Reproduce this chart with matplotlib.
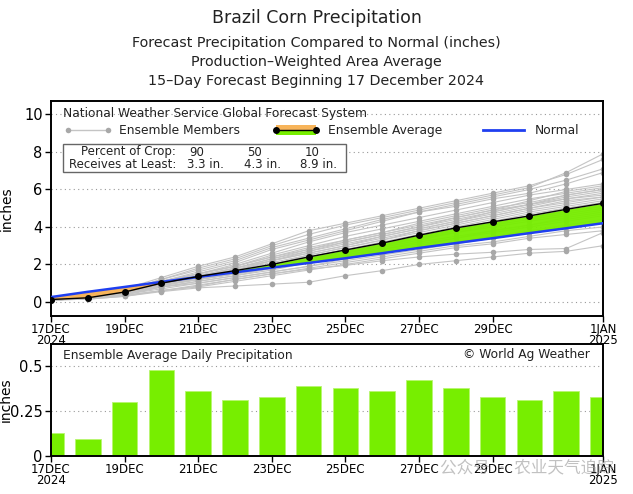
import matplotlib
matplotlib.use("Agg")
import matplotlib.pyplot as plt
import numpy as np
from matplotlib.lines import Line2D
from matplotlib.patches import Rectangle

# ---------------- data ----------------
days = list(range(16))
tick_days = [0, 2, 4, 6, 8, 10, 12, 15]
tick_labels = ["17DEC\n2024", "19DEC", "21DEC", "23DEC", "25DEC", "27DEC", "29DEC", "1JAN\n2025"]

ens_avg = [0.13, 0.22, 0.53, 1.00, 1.36, 1.67, 2.00, 2.40, 2.77, 3.14, 3.56, 3.95, 4.27, 4.59, 4.94, 5.26]
normal = [0.26, 0.54, 0.80, 1.07, 1.33, 1.58, 1.83, 2.08, 2.33, 2.60, 2.88, 3.14, 3.40, 3.67, 3.93, 4.20]
daily_avg = [0.13, 0.095, 0.30, 0.48, 0.36, 0.31, 0.33, 0.39, 0.375, 0.36, 0.42, 0.38, 0.325, 0.31, 0.36, 0.325]

members = [
    [0.15, 0.25, 0.60, 1.20, 1.80, 2.30, 3.00, 3.60, 4.10, 4.50, 4.90, 5.30, 5.70, 6.10, 6.90, 7.90],
    [0.15, 0.30, 0.70, 1.30, 1.90, 2.40, 3.10, 3.80, 4.20, 4.60, 5.00, 5.40, 5.80, 6.20, 6.80, 7.60],
    [0.10, 0.20, 0.50, 1.10, 1.60, 2.10, 2.80, 3.30, 3.80, 4.30, 4.80, 5.20, 5.60, 6.00, 6.50, 7.10],
    [0.20, 0.30, 0.60, 1.20, 1.70, 2.20, 2.90, 3.40, 3.90, 4.40, 4.80, 5.10, 5.50, 5.80, 6.30, 6.90],
    [0.10, 0.20, 0.50, 1.00, 1.50, 2.00, 2.60, 3.20, 3.70, 4.10, 4.50, 4.90, 5.30, 5.70, 6.00, 6.30],
    [0.15, 0.25, 0.60, 1.10, 1.50, 1.90, 2.50, 3.00, 3.50, 3.90, 4.30, 4.70, 5.10, 5.50, 5.80, 6.10],
    [0.10, 0.20, 0.50, 1.00, 1.40, 1.80, 2.30, 2.80, 3.30, 3.70, 4.20, 4.60, 5.00, 5.30, 5.70, 6.00],
    [0.10, 0.20, 0.40, 0.90, 1.30, 1.70, 2.20, 2.70, 3.20, 3.60, 4.00, 4.40, 4.80, 5.20, 5.60, 5.90],
    [0.15, 0.30, 0.60, 1.10, 1.50, 1.90, 2.40, 2.90, 3.30, 3.70, 4.10, 4.50, 4.90, 5.20, 5.50, 5.80],
    [0.10, 0.20, 0.50, 1.00, 1.40, 1.80, 2.20, 2.60, 3.00, 3.50, 3.90, 4.30, 4.70, 5.10, 5.50, 5.70],
    [0.10, 0.20, 0.50, 1.00, 1.30, 1.60, 2.00, 2.50, 2.90, 3.30, 3.80, 4.20, 4.60, 5.00, 5.40, 5.60],
    [0.15, 0.25, 0.50, 1.00, 1.40, 1.70, 2.10, 2.50, 2.90, 3.30, 3.70, 4.10, 4.50, 4.90, 5.20, 5.50],
    [0.10, 0.20, 0.50, 0.90, 1.30, 1.60, 2.00, 2.40, 2.80, 3.20, 3.60, 4.00, 4.40, 4.80, 5.10, 5.40],
    [0.10, 0.20, 0.40, 0.90, 1.20, 1.50, 1.90, 2.30, 2.70, 3.10, 3.50, 3.90, 4.30, 4.70, 5.00, 5.30],
    [0.15, 0.25, 0.50, 0.90, 1.20, 1.50, 1.80, 2.20, 2.60, 3.00, 3.40, 3.80, 4.20, 4.50, 4.80, 5.10],
    [0.10, 0.20, 0.40, 0.80, 1.10, 1.40, 1.80, 2.20, 2.50, 2.90, 3.30, 3.70, 4.00, 4.30, 4.60, 4.90],
    [0.10, 0.20, 0.40, 0.80, 1.10, 1.40, 1.70, 2.10, 2.40, 2.80, 3.20, 3.50, 3.80, 4.10, 4.40, 4.70],
    [0.15, 0.25, 0.50, 0.90, 1.20, 1.50, 1.80, 2.10, 2.40, 2.70, 3.00, 3.40, 3.70, 4.00, 4.30, 4.60],
    [0.10, 0.20, 0.40, 0.80, 1.00, 1.30, 1.60, 1.90, 2.30, 2.60, 2.90, 3.20, 3.50, 3.80, 4.10, 4.40],
    [0.10, 0.20, 0.40, 0.70, 1.00, 1.30, 1.60, 1.90, 2.20, 2.50, 2.80, 3.10, 3.40, 3.70, 4.00, 4.20],
    [0.10, 0.15, 0.30, 0.60, 0.90, 1.20, 1.50, 1.80, 2.10, 2.40, 2.70, 3.00, 3.20, 3.50, 3.80, 4.00],
    [0.10, 0.20, 0.35, 0.60, 0.80, 1.10, 1.40, 1.70, 2.00, 2.30, 2.60, 2.90, 3.10, 3.40, 3.60, 3.80],
    [0.10, 0.15, 0.30, 0.55, 0.75, 0.85, 0.95, 1.05, 1.40, 1.67, 2.00, 2.20, 2.40, 2.60, 2.70, 3.00],
    [0.10, 0.20, 0.35, 0.60, 0.85, 1.20, 1.50, 1.75, 1.95, 2.20, 2.40, 2.55, 2.65, 2.80, 2.85, 3.70],
    [0.15, 0.25, 0.55, 1.10, 1.50, 1.90, 2.40, 2.80, 3.20, 3.60, 4.00, 4.50, 4.90, 5.40, 5.90, 6.20],
    [0.10, 0.20, 0.50, 1.00, 1.40, 1.80, 2.30, 2.70, 3.10, 3.50, 3.90, 4.30, 4.80, 5.20, 5.70, 6.00],
    [0.10, 0.20, 0.50, 1.00, 1.40, 1.70, 2.20, 2.60, 3.00, 3.40, 3.80, 4.20, 4.60, 5.00, 5.30, 5.60],
    [0.10, 0.20, 0.45, 0.90, 1.30, 1.60, 2.00, 2.40, 2.80, 3.10, 3.50, 3.90, 4.20, 4.60, 5.00, 5.30],
    [0.15, 0.25, 0.50, 0.95, 1.30, 1.60, 1.90, 2.30, 2.60, 3.00, 3.40, 3.70, 4.10, 4.40, 4.70, 5.00],
    [0.10, 0.20, 0.45, 0.85, 1.20, 1.50, 1.80, 2.10, 2.50, 2.80, 3.10, 3.40, 3.80, 4.10, 4.50, 4.80],
]

pct_crop = ["90", "50", "10"]
receives = ["3.3 in.", "4.3 in.", "8.9 in."]

title_lines = ["Brazil Corn Precipitation",
               "Forecast Precipitation Compared to Normal (inches)",
               "Production\u2013Weighted Area Average",
               "15\u2013Day Forecast Beginning 17 December 2024"]

# ---------------- style ----------------
GREEN = "#77EE00"
ORANGE = "#F7B45A"
BLUE = "#1F3FF0"
MEMBER_LINE = "#C4C4C4"
MEMBER_DOT = "#A8A8A8"
FONT = "DejaVu Sans"
TICKFONT = ["Liberation Sans Narrow", "DejaVu Sans"]
TXT = "#222222"

W, H = 633, 494
fig = plt.figure(figsize=(W / 100, H / 100), dpi=100)

def fx(px):
    return px / W

def fy(py):
    return 1 - py / H

# titles
fig.text(0.5, fy(18), title_lines[0], ha="center", va="center", fontsize=12.5, family=FONT, color=TXT)
for yy, t in zip([43, 62, 81], title_lines[1:]):
    fig.text(0.5, fy(yy), t, ha="center", va="center", fontsize=10.3, family=FONT, color=TXT)

# ---------------- top axes ----------------
ax = fig.add_axes([fx(51), fy(316), fx(603 - 51), (316 - 101) / H])
ax.set_xlim(0, 15)
ax.set_ylim(-0.75, 10.72)

for yv in [0, 2, 4, 6, 8, 10]:
    ax.axhline(yv, color="#999999", lw=0.8, ls=(0, (1, 3)), zorder=0)

for m in members:
    ax.plot(days, m, color=MEMBER_LINE, lw=0.8, zorder=1)
    ax.plot(days, m, ls="none", marker="o", ms=4, color=MEMBER_DOT, mec="none", zorder=1.5)

ea = np.array(ens_avg)
nm = np.array(normal)
ax.fill_between(days, nm, ea, where=ea >= nm, interpolate=True, color=GREEN, lw=0, zorder=2, alpha=0.95)
ax.fill_between(days, nm, ea, where=ea < nm, interpolate=True, color=ORANGE, lw=0, zorder=2)
ax.plot(days, normal, color=BLUE, lw=1.8, zorder=3)
ax.plot(days, ens_avg, color="black", lw=1.0, marker="o", ms=4, zorder=4)

ax.set_yticks([0, 2, 4, 6, 8, 10])
ax.set_yticklabels(["0", "2", "4", "6", "8", "10"], fontsize=10.5, family=FONT)
ax.set_xticks(tick_days)
ax.set_xticklabels(tick_labels, fontsize=8.5, family=TICKFONT, linespacing=0.85)
ax.tick_params(axis="both", direction="out", length=4, width=1, pad=2)
ax.tick_params(axis="x", pad=1)
ax.set_ylabel("inches", fontsize=10, family=FONT)
ax.yaxis.set_label_coords((14 - 51) / 552, 0.5)
for s in ax.spines.values():
    s.set_linewidth(1.4)

def ax_x(px):
    return (px - 51) / 552

def ax_y(py):
    return (316 - py) / 215

ax.text(ax_x(63), ax_y(114), "National Weather Service Global Forecast System",
        transform=ax.transAxes, fontsize=8.8, family=FONT, va="center", ha="left", color=TXT)

ly = ax_y(130)
ax.add_line(Line2D([ax_x(68), ax_x(108)], [ly, ly], transform=ax.transAxes, color=MEMBER_LINE, lw=1.0))
ax.add_line(Line2D([ax_x(68), ax_x(108)], [ly, ly], transform=ax.transAxes, ls="none", marker="o", ms=4, color=MEMBER_DOT, mec="none"))
ax.text(ax_x(119), ly, "Ensemble Members", transform=ax.transAxes, fontsize=8.8, family=FONT, va="center", color=TXT)

ax.add_patch(Rectangle((ax_x(276), ly), ax_x(316) - ax_x(276), 0.022, transform=ax.transAxes, color=ORANGE, lw=0, zorder=5))
ax.add_patch(Rectangle((ax_x(276), ly - 0.022), ax_x(316) - ax_x(276), 0.022, transform=ax.transAxes, color=GREEN, lw=0, zorder=5))
ax.add_line(Line2D([ax_x(276), ax_x(316)], [ly, ly], transform=ax.transAxes, color="black", lw=1.0, marker="o", ms=4, zorder=6))
ax.text(ax_x(328), ly, "Ensemble Average", transform=ax.transAxes, fontsize=8.8, family=FONT, va="center", color=TXT)

ax.add_line(Line2D([ax_x(483), ax_x(524)], [ly, ly], transform=ax.transAxes, color=BLUE, lw=2.0))
ax.text(ax_x(535), ly, "Normal", transform=ax.transAxes, fontsize=8.8, family=FONT, va="center", color=TXT)

ax.add_patch(Rectangle((ax_x(63), ax_y(172)), ax_x(346) - ax_x(63), ax_y(144) - ax_y(172),
                       transform=ax.transAxes, facecolor="white", edgecolor="#666666", lw=1.0, zorder=5))
ax.text(ax_x(176), ax_y(152), "Percent of Crop:", transform=ax.transAxes, fontsize=8.5, family=FONT,
        va="center", ha="right", zorder=6, color=TXT)
ax.text(ax_x(176), ax_y(164), "Receives at Least:", transform=ax.transAxes, fontsize=8.5, family=FONT,
        va="center", ha="right", zorder=6, color=TXT)
for cx, p in zip([197, 255, 312], pct_crop):
    ax.text(ax_x(cx), ax_y(152), p, transform=ax.transAxes, fontsize=8.5, family=FONT, va="center", ha="center", zorder=6, color=TXT)
for cx, r in zip([205, 262, 318], receives):
    ax.text(ax_x(cx), ax_y(164), r, transform=ax.transAxes, fontsize=8.5, family=FONT, va="center", ha="center", zorder=6, color=TXT)

# ---------------- bottom axes ----------------
bx = fig.add_axes([fx(51), fy(456), fx(552), (456 - 344) / H])
bx.set_xlim(0, 15)
bx.set_ylim(0, 0.622)
for yv in [0.25, 0.5]:
    bx.axhline(yv, color="#999999", lw=0.8, ls=(0, (1, 3)), zorder=0)
bx.bar(days, daily_avg, width=0.7, color=GREEN, edgecolor="#B8F570", lw=0.6, zorder=2)
bx.set_yticks([0, 0.25, 0.5])
bx.set_yticklabels(["0", "0.25", "0.5"], fontsize=10.5, family=FONT)
bx.set_xticks(tick_days)
bx.set_xticklabels(tick_labels, fontsize=8.5, family=TICKFONT, linespacing=0.85)
bx.tick_params(axis="both", direction="out", length=4, width=1, pad=2)
bx.tick_params(axis="x", pad=1)
bx.set_ylabel("inches", fontsize=10, family=FONT)
bx.yaxis.set_label_coords((13 - 51) / 552, 0.5)
for s in bx.spines.values():
    s.set_linewidth(1.4)
bx.text((63 - 51) / 552, (456 - 355) / 112, "Ensemble Average Daily Precipitation", transform=bx.transAxes,
        fontsize=8.8, family=FONT, va="center", ha="left", color=TXT)
bx.text((590 - 51) / 552, (456 - 354) / 112, "\u00a9 World Ag Weather", transform=bx.transAxes,
        fontsize=8.8, family=FONT, va="center", ha="right", color=TXT)

# watermark
fig.text(fx(440), fy(468), "\u516c\u4f17\u53f7 \u00b7 \u519c\u4e1a\u5929\u6c14\u8ffd\u8e2a", fontsize=12,
         family=["Noto Sans CJK SC", "DejaVu Sans"], color="#999999", alpha=0.6, va="center", ha="left")

fig.savefig("out.png", dpi=100)
